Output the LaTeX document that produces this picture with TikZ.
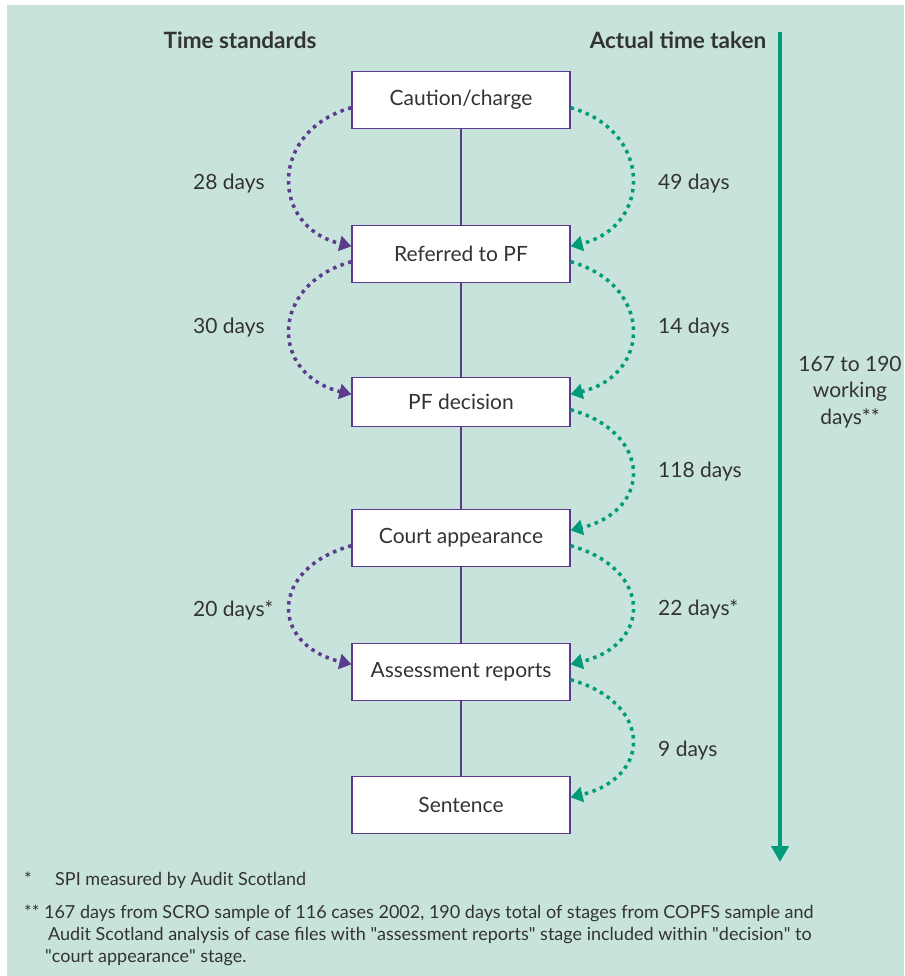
\documentclass[tikz,border=0pt]{standalone}
\usepackage{fontspec}
\setmainfont{Lato}
\usetikzlibrary{arrows.meta}

\definecolor{bgteal}{HTML}{C7E3DC}
\definecolor{stdpurple}{HTML}{5C3A8E}
\definecolor{actgreen}{HTML}{009C7A}
\definecolor{txtgrey}{HTML}{333333}

\begin{document}
\begin{tikzpicture}
        [
            x                    = 1pt,
            y                    = -1pt,
            stage/.style         = {shape=rectangle, draw=stdpurple, line width=1.2pt, fill=white, minimum width=218pt, minimum height=57pt},
            link/.style          = {draw=stdpurple, line width=1.5pt},
            standard/.style      = {draw=stdpurple, line width=3.5pt, dash pattern=on 3.5pt off 4.5pt, -{Triangle[width=15pt,length=12pt]}},
            actual/.style        = {draw=actgreen, line width=3.5pt, dash pattern=on 3.5pt off 4.5pt, -{Triangle[width=15pt,length=12pt]}},
            total/.style         = {draw=actgreen, line width=4.5pt, -{Triangle[width=17pt,length=16pt]}},
            days/.style          = {anchor=base west, inner sep=0pt},
            heading/.style       = {anchor=base, inner sep=0pt, font=\fontsize{22.5}{26}\selectfont\bfseries},
            footnote/.style      = {anchor=base west, inner sep=0pt, align=left, font=\fontsize{18}{22}\selectfont},
            every node/.style    = {font=\fontsize{21}{24}\selectfont, text=txtgrey},
        ]
        \useasboundingbox (0,0) rectangle (904,976);
        \fill [bgteal] (7,5) rectangle (904,976);

        % headings
        \node [heading] (stdhead) at (240,49) {Time standards};
        \node [heading] (acthead) at (678,49) {Actual time taken};

        % stages
        \node [stage] (caution)  at (461,100) {Caution/charge};
        \node [stage] (referred) at (461,254) {Referred to PF};
        \node [stage, minimum height=49pt] (decision) at (461,402) {PF decision};
        \node [stage] (court)    at (461,538) {Court appearance};
        \node [stage] (assess)   at (461,672) {Assessment reports};
        \node [stage] (sentence) at (461,805) {Sentence};

        \draw [link] (caution) -- (referred);
        \draw [link] (referred) -- (decision);
        \draw [link] (decision) -- (court);
        \draw [link] (court) -- (assess);
        \draw [link] (assess) -- (sentence);

        % time standards
        \draw [standard] (caution.184) .. controls +(-82,23) and +(-82,-20) .. (referred.176);
        \draw [standard] (referred.184) .. controls +(-82,23) and +(-82,-20) .. (decision.176);
        \draw [standard] (court.184) .. controls +(-82,23) and +(-82,-20) .. (assess.176);
        \node [days] (std1) at (193,190) {28 days};
        \node [days] (std2) at (193,333) {30 days};
        \node [days] (std4) at (193,616) {20 days*};

        % actual time taken
        \draw [actual] (caution.-4) .. controls +(82,23) and +(82,-20) .. (referred.4);
        \draw [actual] (referred.-4) .. controls +(82,23) and +(82,-20) .. (decision.4);
        \draw [actual] (decision.-4) .. controls +(82,23) and +(82,-20) .. (court.4);
        \draw [actual] (court.-4) .. controls +(82,23) and +(82,-20) .. (assess.4);
        \draw [actual] (assess.-4) .. controls +(82,23) and +(82,-20) .. (sentence.4);
        \node [days] (act1) at (658,190) {49 days};
        \node [days] (act2) at (658,333) {14 days};
        \node [days] (act3) at (658,477) {118 days};
        \node [days] (act4) at (658,615) {22 days*};
        \node [days] (act5) at (658,756) {9 days};

        % overall
        \coordinate (totaltop) at (780,32);
        \coordinate (totalend) at (780,862);
        \draw [total] (totaltop) -- (totalend);
        \node [align=center, font=\fontsize{21}{26.5}\selectfont] (totaltext) at (850,392) {167 to 190\\working\\days**};

        % notes
        \node [footnote] (note1star) at (24,885) {*};
        \node [footnote] (note1) at (55,885) {SPI measured by Audit Scotland};
        \node [footnote] (note2) at (24,962) {** 167 days from SCRO sample of 116 cases 2002, 190 days total of stages from COPFS sample and\\
            \hspace*{24pt}Audit Scotland analysis of case files with \textquotedbl assessment reports\textquotedbl{} stage included within \textquotedbl decision\textquotedbl{} to\\
            \hspace*{21pt}\textquotedbl court appearance\textquotedbl{} stage.};
    \end{tikzpicture}
\end{document}
